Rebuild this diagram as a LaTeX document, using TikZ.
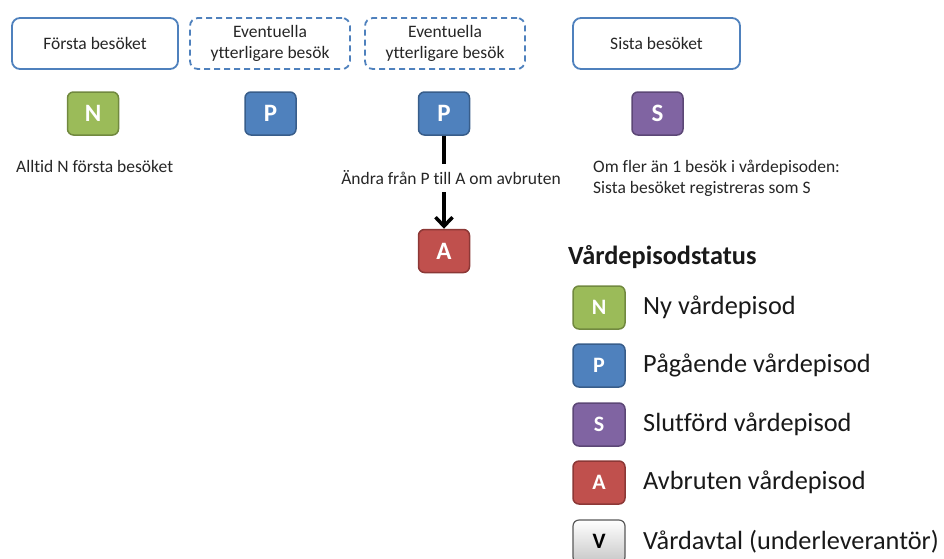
\documentclass[tikz,border=0pt]{standalone}
\usepackage{fontspec}
\setmainfont{Carlito}[Ligatures=NoCommon]
\usepackage{tikz}
\usetikzlibrary{shapes}
\usetikzlibrary{arrows.meta}
\definecolor{boxblue}{RGB}{79,129,189}
\definecolor{green}{RGB}{155,187,89}
\definecolor{darkgreen}{RGB}{113,137,63}
\definecolor{blue}{RGB}{79,129,189}
\definecolor{darkblue}{RGB}{56,93,138}
\definecolor{purple}{RGB}{128,100,162}
\definecolor{darkpurple}{RGB}{92,71,118}
\definecolor{winered}{RGB}{192,80,77}
\definecolor{darkwinered}{RGB}{140,56,54}
\tikzstyle{Visit}=[shape=rectangle,rounded corners=8pt,draw=boxblue,line width=1.8pt,fill=white,align=center,text=black!85,font=\fontsize{17.5}{21}\selectfont,minimum height=51pt]
\tikzstyle{Evisit}=[Visit,dash pattern=on 6pt off 4pt]
\tikzstyle{Code}=[shape=rectangle,rounded corners=6pt,line width=1.5pt,text=white,minimum width=51pt,minimum height=43pt,font=\fontsize{25}{30}\selectfont\bfseries]
\tikzstyle{Lcode}=[Code,minimum width=52pt,font=\fontsize{22}{26}\selectfont\bfseries]
\tikzstyle{Ltext}=[anchor=west,inner sep=0pt,text=black!90,font=\fontsize{26.3}{31}\selectfont]
\tikzstyle{note}=[inner sep=0pt,text=black!85,align=left,font=\fontsize{17.5}{20.5}\selectfont]
\tikzstyle{heavyedge}=[-{Straight Barb[length=9pt,width=17pt,line width=3.5pt]},line width=3.5pt]

\begin{document}
\begin{tikzpicture}[x=1pt,y=-1pt]
\useasboundingbox (0,0) rectangle (944,558);

%visits
\node[Visit,minimum width=166pt] (first) at (95,43.5){F\"orsta bes\"oket};
\node[Evisit,minimum width=160pt] (extra1) at (270,43.5){Eventuella\\ ytterligare bes\"ok};
\node[Evisit,minimum width=160pt] (extra2) at (445,43.5){Eventuella\\ ytterligare bes\"ok};
\node[Visit,minimum width=167pt] (last) at (656.5,43.5){Sista bes\"oket};

%codes per visit
\node[Code,fill=green,draw=darkgreen] (cN) at (93,113.5){N};
\node[Code,fill=blue,draw=darkblue] (cP1) at (270.5,113.5){P};
\node[Code,fill=blue,draw=darkblue] (cP2) at (444,113.5){P};
\node[Code,fill=purple,draw=darkpurple] (cS) at (657.5,113.5){S};
\node[Code,fill=winered,draw=darkwinered] (cA) at (444,251){A};

\node[note,anchor=west] (noteN) at (16,166){Alltid N f\"orsta bes\"oket};
\node[note,anchor=north west] (noteS) at (593,160){Om fler \"an 1 bes\"ok i v\r{a}rdepisoden:\\ Sista bes\"oket registreras som S};

 \path
(cP2) edge [heavyedge] (cA)
;
\node[note,fill=white,inner xsep=1pt,inner ysep=7pt] (change) at (451,178){\"Andra fr\r{a}n P till A om avbruten};

%legend
\node[anchor=west,inner sep=0pt,text=black!90,font=\fontsize{26.3}{31}\selectfont\bfseries] (ltitle) at (568,257){V\r{a}rdepisodstatus};

\node[Lcode,fill=green,draw=darkgreen] (lN) at (599,307.5){N};
\node[Lcode,fill=blue,draw=darkblue] (lP) at (599,365.5){P};
\node[Lcode,fill=purple,draw=darkpurple] (lS) at (599,424.5){S};
\node[Lcode,fill=winered,draw=darkwinered] (lA) at (599,482.5){A};
\node[Lcode,top color=white,bottom color=black!22,draw=black!65,line width=1.2pt,text=black] (lV) at (599,541.5){V};

\node[Ltext] (tN) at (643,307.5){Ny v\r{a}rdepisod};
\node[Ltext] (tP) at (643,365.5){P\r{a}g\r{a}ende v\r{a}rdepisod};
\node[Ltext] (tS) at (643,424.5){Slutf\"ord v\r{a}rdepisod};
\node[Ltext] (tA) at (643,482.5){Avbruten v\r{a}rdepisod};
\node[Ltext] (tV) at (643,541.5){V\r{a}rdavtal (underleverant\"or)};

\end{tikzpicture}
\end{document}
